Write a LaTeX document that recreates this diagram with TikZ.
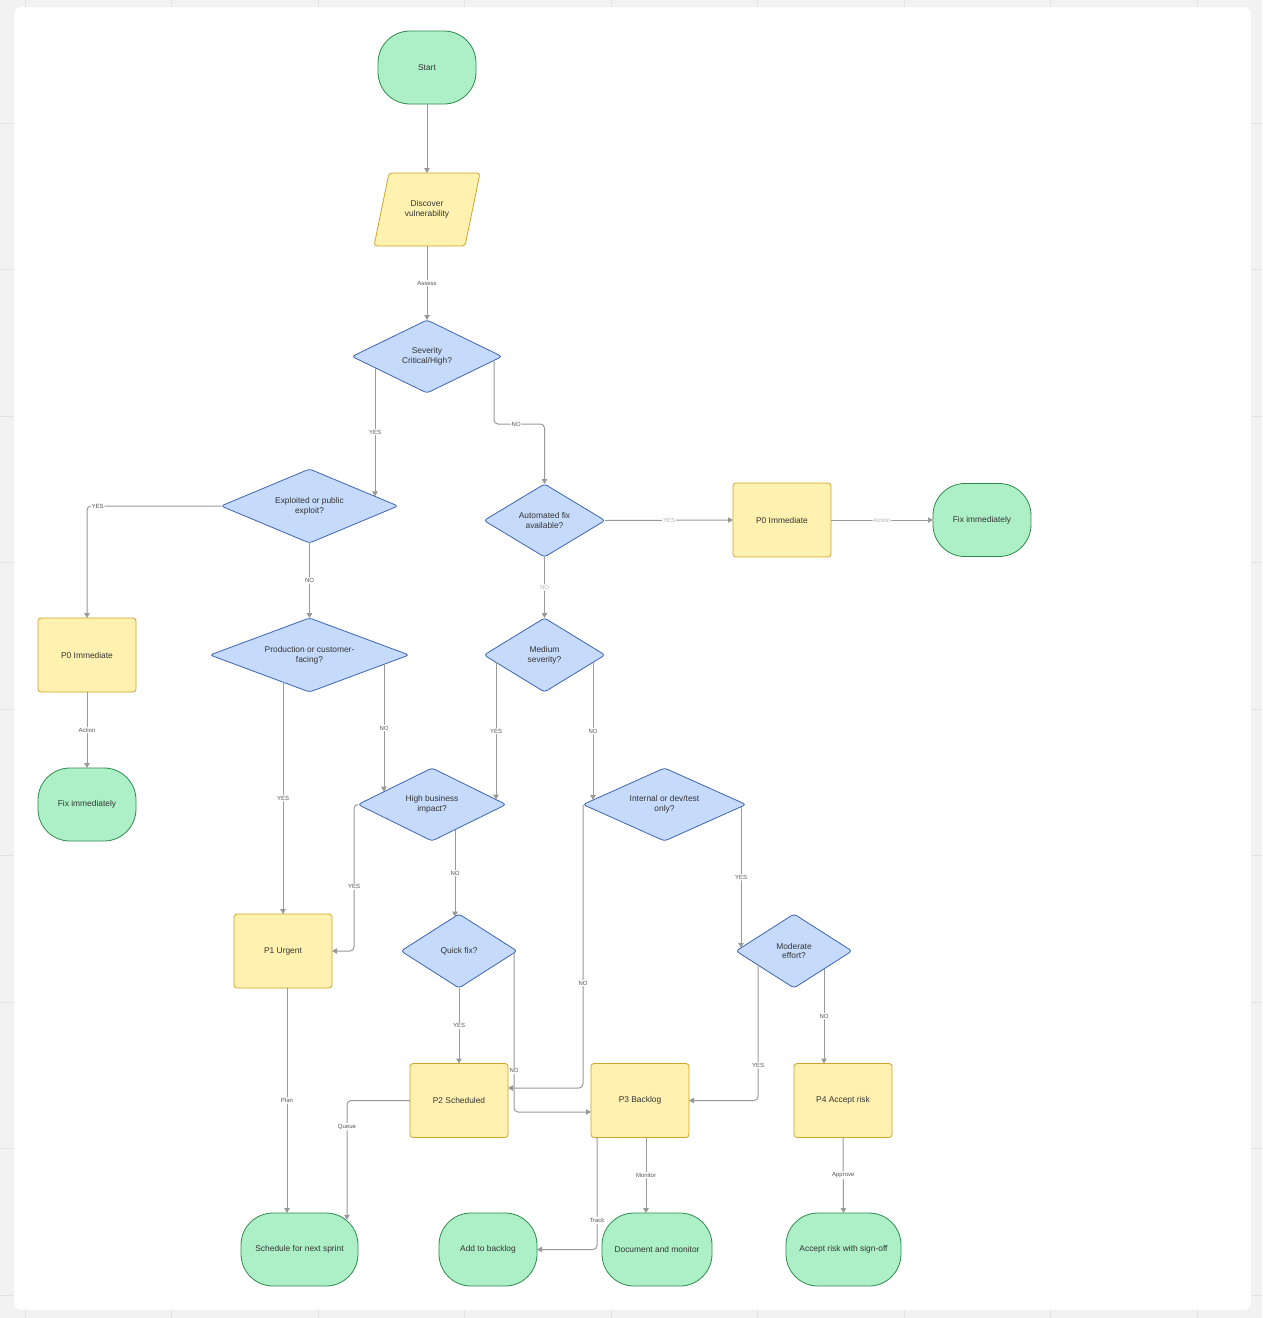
\documentclass[tikz,border=0pt]{standalone}
\usepackage{fontspec}
\setmainfont{Liberation Sans}
\usetikzlibrary{shapes.geometric,arrows.meta,calc}
\definecolor{bgc}{HTML}{F2F2F2}
\definecolor{gridc}{HTML}{E3E3E3}
\definecolor{termf}{HTML}{ADF0C8}
\definecolor{termd}{HTML}{2E8A4C}
\definecolor{procf}{HTML}{FFF2B0}
\definecolor{procd}{HTML}{CFA52A}
\definecolor{decf}{HTML}{C6DBFB}
\definecolor{decd}{HTML}{3D64B2}
\definecolor{edgec}{HTML}{999999}
\definecolor{txtc}{HTML}{333333}
\definecolor{lblc}{HTML}{555555}
\definecolor{lbllight}{HTML}{B3B3B3}
\newcommand\nodefnt{\fontsize{8.4}{9.8}\selectfont}
\newcommand\lblfnt{\fontsize{6}{7}\selectfont}
\pgfdeclarelayer{back}
\pgfdeclarelayer{bg}
\pgfsetlayers{back,bg,main}
\tikzset{
  term/.style={draw=termd, fill=termf, rounded corners=32pt, minimum width=98pt, minimum height=73pt,
    inner sep=0pt, outer sep=0pt, font=\nodefnt, text=txtc, line width=0.8pt, align=center},
  proc/.style={draw=procd, fill=procf, rounded corners=3pt, minimum width=98pt, minimum height=74pt,
    inner sep=0pt, outer sep=0pt, font=\nodefnt, text=txtc, line width=0.8pt, align=center},
  dec/.style={shape=diamond, aspect=2, draw=decd, fill=decf, rounded corners=3pt,
    inner sep=0pt, outer sep=0pt, font=\nodefnt, text=txtc, line width=0.8pt, align=center},
  arr/.style={draw=edgec, line width=1pt, rounded corners=4pt, -{Triangle[length=5pt,width=5.5pt]}},
  lbl/.style={fill=white, inner sep=1pt, font=\lblfnt, text=lblc},
  lbll/.style={lbl, text=lbllight}
}
\begin{document}
\begin{tikzpicture}[x=1pt,y=-1pt]
\useasboundingbox (0,0) rectangle (1262,1318);
\begin{pgfonlayer}{back}
  \fill[bgc] (0,0) rectangle (1262,1318);
  \foreach \gx in {25,171.5,318,464.5,611,757.5,904,1050.5,1197} \draw[gridc, line width=1pt] (\gx,0) -- (\gx,1318);
  \foreach \gy in {123,269.5,416,562.5,709,855.5,1002,1148.5,1295} \draw[gridc, line width=1pt] (0,\gy) -- (1262,\gy);
  \fill[white, draw=black!7, rounded corners=6pt] (14,7) rectangle (1251,1310);
\end{pgfonlayer}

% nodes
\node[term] (start) at (427,67.5) {Start};
\node[inner sep=0pt, outer sep=0pt, minimum width=106pt, minimum height=73pt, align=center, font=\nodefnt, text=txtc] (disc) at (427,209.5) {Discover\\vulnerability};
\begin{pgfonlayer}{bg}
  \draw[draw=procd, fill=procf, rounded corners=3pt, line width=0.8pt]
    ([xshift=15pt]disc.north west) -- (disc.north east) -- ([xshift=-15pt]disc.south east) -- (disc.south west) -- cycle;
\end{pgfonlayer}
\node[dec, minimum width=150pt, minimum height=73pt] (sev) at (427,356.5) {Severity\\Critical/High?};
\node[dec, minimum width=177pt, minimum height=74pt] (exp) at (309.5,506) {Exploited or public\\exploit?};
\node[dec, minimum width=121pt, minimum height=73pt] (auto) at (544.5,520.5) {Automated fix\\available?};
\node[proc] (p0r) at (782,520) {P0 Immediate};
\node[term] (fixr) at (982,520) {Fix immediately};
\node[proc] (p0l) at (87,655) {P0 Immediate};
\node[term] (fixl) at (87,804.5) {Fix immediately};
\node[dec, minimum width=199pt, minimum height=74pt] (prod) at (309.5,655) {Production or customer-\\facing?};
\node[dec, minimum width=121pt, minimum height=74pt] (med) at (544.5,655) {Medium\\severity?};
\node[dec, minimum width=148pt, minimum height=73pt] (high) at (432,804.5) {High business\\impact?};
\node[dec, minimum width=163pt, minimum height=73pt] (int) at (664.5,804.5) {Internal or dev/test\\only?};
\node[proc] (p1) at (283,951) {P1 Urgent};
\node[dec, minimum width=116pt, minimum height=74pt] (quick) at (459,951) {Quick fix?};
\node[dec, minimum width=116pt, minimum height=74pt] (mod) at (794,951) {Moderate\\effort?};
\node[proc] (p2) at (459,1100.5) {P2 Scheduled};
\node[proc] (p3) at (640,1100.5) {P3 Backlog};
\node[proc] (p4) at (843,1100.5) {P4 Accept risk};
\node[term, minimum width=117pt] (sched) at (299.5,1249.5) {Schedule for next sprint};
\node[term] (add) at (488,1249.5) {Add to backlog};
\node[term, minimum width=110pt] (doc) at (657,1249.5) {Document and monitor};
\node[term, minimum width=115pt] (acc) at (843.5,1249.5) {Accept risk with sign-off};

% connectors
\draw[arr] (start.south) -- (disc.south |- disc.north);
\draw[arr] (disc.south) -- node[lbl] (e1) {Assess} (sev.north);
\draw[arr] ($(sev)+(-52,11.2)$) -- node[lbl] (e2) {YES} ($(exp)+(65.5,-9.6)$);
\draw[arr] ($(sev)+(67,3.9)$) |- node[lbl, pos=0.72] (e3) {NO} ($(auto.north)+(0,-60)$) -- (auto.north);
\draw[arr] (exp.west) -| node[lbl, pos=0.46] (e4) {YES} (p0l.north);
\draw[arr] (exp.south) -- node[lbl] (e5) {NO} (prod.north);
\draw[arr] (auto.east) -- node[lbll] (e6) {YES} (p0r.west);
\draw[arr] (p0r.east) -- node[lbll] (e7) {Action} (fixr.west);
\draw[arr] (auto.south) -- node[lbll] (e8) {NO} (med.north);
\draw[arr] (p0l.south) -- node[lbl] (e9) {Action} (fixl.north);
\draw[arr] ($(prod)+(-26.5,27.1)$) -- node[lbl] (e10) {YES} (p1.north);
\draw[arr] ($(prod)+(74.5,9.3)$) -- node[lbl] (e11) {NO} ($(high)+(-48,-12.8)$);
\draw[arr] ($(med)+(-48.5,7.3)$) -- node[lbl] (e12) {YES} ($(high)+(64,-4.9)$);
\draw[arr] ($(med)+(48.5,7.3)$) -- node[lbl] (e13) {NO} ($(int)+(-71.5,-4.5)$);
\draw[arr] (high.west) -- ($(high.west)+(-4,0)$) |- node[lbl, pos=0.28] (e14) {YES} (p1.east);
\draw[arr] ($(high)+(23,25.2)$) -- node[lbl] (e15) {NO} ($(quick)+(-4,-34.4)$);
\draw[arr] (quick.south) -- node[lbl] (e16) {YES} (p2.north);
\draw[arr] ($(quick)+(55,1.9)$) |- node[lbl, pos=0.37] (e17) {NO} ($(p3.west)+(0,11.5)$);
\draw[arr] (int.west) |- node[lbl, pos=0.315] (e18) {NO} ($(p2.east)+(0,-12.5)$);
\draw[arr] ($(int)+(76.5,2.2)$) -- node[lbl] (e19) {YES} ($(mod)+(-53,-3.2)$);
\draw[arr] ($(mod)+(-36,14)$) |- node[lbl, pos=0.37] (e20) {YES} (p3.east);
\draw[arr] ($(mod)+(30,17.9)$) -- node[lbl] (e21) {NO} ($(p4.north)+(-19,0)$);
\draw[arr] ($(p1.south)+(4,0)$) -- node[lbl] (e22) {Plan} ($(sched.north)+(-12.5,0)$);
\draw[arr] (p2.west) -| node[lbl, pos=0.61] (e23) {Queue} ($(sched)+(47.5,-29.7)$);
\draw[arr] ($(p3.south)+(-43,0)$) |- node[lbl, pos=0.37] (e24) {Track} (add.east);
\draw[arr] ($(p3.south)+(6,0)$) -- node[lbl] (e25) {Monitor} ($(doc.north)+(-11,0)$);
\draw[arr] (p4.south) -- node[lbl] (e26) {Approve} (acc.north);
\end{tikzpicture}
\end{document}
